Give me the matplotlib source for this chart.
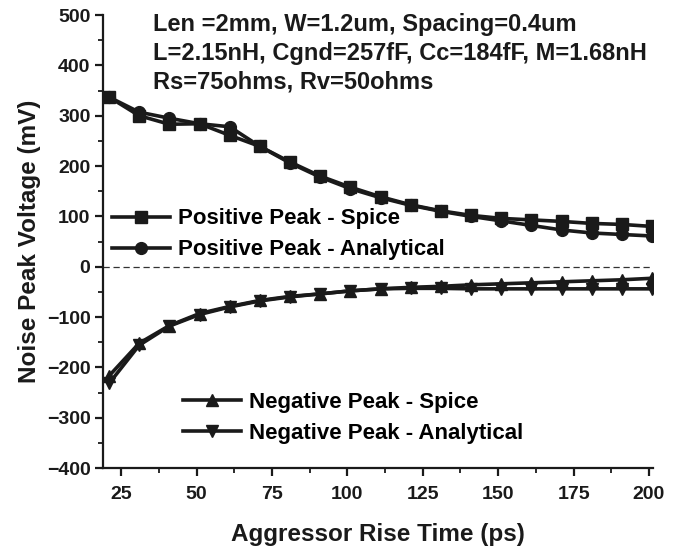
import matplotlib
matplotlib.use('Agg')
import matplotlib.pyplot as plt
from matplotlib.ticker import MultipleLocator
import numpy as np

plt.rcParams['font.family'] = ['Liberation Sans', 'DejaVu Sans']
plt.rcParams['font.weight'] = 'bold'

######## Data #################################
rise_time = [21, 31, 41, 51, 61, 71, 81, 91, 101, 111, 121, 131, 141, 151, 161, 171, 181, 191, 201]

pos_spice = [337, 300, 283, 284, 261, 239, 208, 180, 158, 139, 123, 111, 102, 96, 93, 90, 86, 84, 80]
pos_analytical = [337, 307, 295, 284, 278, 239, 206, 178, 155, 137, 122, 110, 100, 91, 82, 73, 67, 64, 61]
neg_spice = [-217, -152, -117, -93, -79, -67, -59, -54, -48, -44, -41, -39, -36, -34, -32, -30, -28, -26, -23]
neg_analytical = [-232, -156, -118, -95, -80, -68, -60, -54, -48, -44, -43, -43, -44, -44, -44, -44, -44, -44, -44]

info_lines = ["Len =2mm, W=1.2um, Spacing=0.4um",
              "L=2.15nH, Cgnd=257fF, Cc=184fF, M=1.68nH",
              "Rs=75ohms, Rv=50ohms"]

ink = '#1a1a1a'

######## Plot ##########
fig = plt.figure(figsize=(6.88, 5.5), dpi=100)
ax = fig.add_axes([0.1497, 0.149, 0.7993, 0.8237])

style = dict(color=ink, linewidth=2.6, markersize=8.5)
l1, = ax.plot(rise_time, pos_spice, marker='s', label='Positive Peak - Spice', **style)
l2, = ax.plot(rise_time, pos_analytical, marker='o', label='Positive Peak - Analytical', **style)
l3, = ax.plot(rise_time, neg_spice, marker='^', label='Negative Peak - Spice', **style)
l4, = ax.plot(rise_time, neg_analytical, marker='v', label='Negative Peak - Analytical', **style)

ax.axhline(0, color='#333333', linestyle=(0, (5, 3)), linewidth=0.9, zorder=0)

ax.set_xlim(19, 201.3)
ax.set_ylim(-400, 500)
ax.xaxis.set_major_locator(MultipleLocator(25))
ax.xaxis.set_minor_locator(MultipleLocator(12.5))
ax.yaxis.set_major_locator(MultipleLocator(100))
ax.yaxis.set_minor_locator(MultipleLocator(50))

ax.spines['top'].set_visible(False)
ax.spines['right'].set_visible(False)
for s in ['left', 'bottom']:
    ax.spines[s].set_linewidth(1.6)
    ax.spines[s].set_color(ink)
ax.tick_params(which='major', direction='out', length=6, width=1.6, labelsize=14, colors=ink, pad=3)
ax.tick_params(which='minor', direction='out', length=3.5, width=1.3, colors=ink)
ax.tick_params(axis='x', pad=7)

ax.set_xlabel('Aggressor Rise Time (ps)', fontsize=17.5, fontweight='bold', labelpad=14, color=ink)
ax.set_ylabel('Noise Peak Voltage (mV)', fontsize=17.5, fontweight='bold', labelpad=4, color=ink)

for y, line in zip([0.978, 0.914, 0.852], info_lines):
    ax.text(0.0909, y, line, transform=ax.transAxes, fontsize=17,
            fontweight='bold', va='center', ha='left', color=ink)

leg_kw = dict(frameon=False, fontsize=16, handlelength=2.6, handletextpad=0.36,
              labelspacing=0.45, borderaxespad=0, borderpad=0, loc='center left')
leg1 = ax.legend(handles=[l1, l2], bbox_to_anchor=(0.016, 0.516), **leg_kw)
ax.add_artist(leg1)
ax.legend(handles=[l3, l4], bbox_to_anchor=(0.1455, 0.111), **leg_kw)

plt.savefig('out.png', dpi=100)
